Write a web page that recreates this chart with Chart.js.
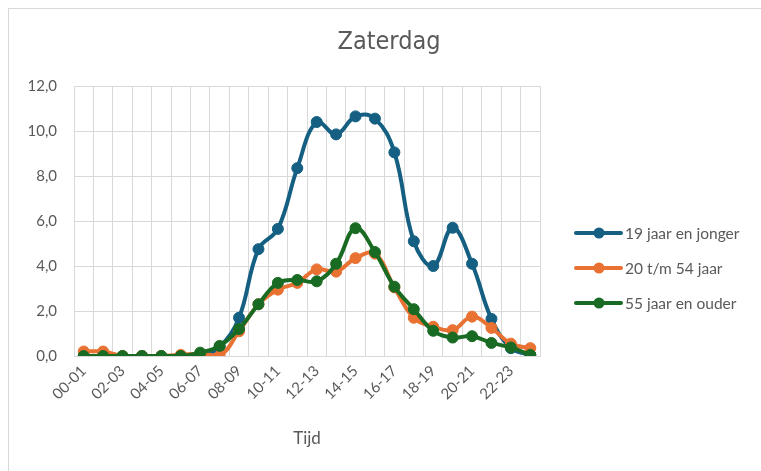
<!DOCTYPE html>
<html>
<head>
<meta charset="utf-8">
<script src="https://cdn.jsdelivr.net/npm/chart.js@4.4.1/dist/chart.umd.min.js"></script>
<style>
  html, body { margin: 0; padding: 0; background: #ffffff; }
  canvas { display: block; }
</style>
</head>
<body>
<canvas id="c" width="761" height="471"></canvas>
<script>
const chartTitle = 'Zaterdag';
const axisTitle = 'Tijd';
const categories = ['00-01','01-02','02-03','03-04','04-05','05-06','06-07','07-08','08-09','09-10','10-11','11-12',
                    '12-13','13-14','14-15','15-16','16-17','17-18','18-19','19-20','20-21','21-22','22-23','23-24'];
const seriesNames = ['19 jaar en jonger', '20 t/m 54 jaar', '55 jaar en ouder'];
const young  = [0, 0, 0, 0, 0, 0, 0, 0.4, 1.7, 4.75, 5.65, 8.35, 10.4, 9.85, 10.65, 10.55, 9.05, 5.1, 4.0, 5.7, 4.1, 1.65, 0.35, 0.05];
const middle = [0.2, 0.2, 0, 0, 0, 0.05, 0.1, 0, 1.1, 2.3, 2.95, 3.25, 3.85, 3.75, 4.35, 4.55, 3.05, 1.7, 1.3, 1.15, 1.75, 1.25, 0.55, 0.35];
const old    = [0, 0, 0, 0, 0, 0, 0.15, 0.45, 1.2, 2.3, 3.25, 3.38, 3.32, 4.1, 5.68, 4.62, 3.08, 2.08, 1.12, 0.82, 0.88, 0.58, 0.38, 0.05];
const yTicks = [0, 2, 4, 6, 8, 10, 12];

const colors = ['#156082', '#E97132', '#196B24'];
const textColor = '#595959';
const gridColor = '#d9d9d9';
const baseFont = 'Lato, "Noto Sans", sans-serif';
const titleFont = '"Liberation Sans Narrow", "DejaVu Sans Condensed", sans-serif';

const decor = {
  id: 'decor',
  beforeDraw(chart) {
    const ctx = chart.ctx;
    ctx.save();
    ctx.fillStyle = '#ffffff';
    ctx.fillRect(0, 0, chart.width, chart.height);
    ctx.strokeStyle = gridColor;
    ctx.lineWidth = 1;
    ctx.strokeRect(8.5, 8.5, 820, 520);
    ctx.restore();
  },
  afterDraw(chart) {
    const ctx = chart.ctx;
    ctx.save();
    ctx.fillStyle = textColor;
    ctx.font = '25px ' + titleFont;
    ctx.textAlign = 'center';
    ctx.textBaseline = 'middle';
    ctx.fillText(chartTitle, 389, 42);
    // legend
    const ys = [233, 268, 303];
    ctx.font = '15.5px ' + baseFont;
    ctx.textAlign = 'left';
    seriesNames.forEach((name, i) => {
      const y = ys[i];
      ctx.strokeStyle = colors[i];
      ctx.lineWidth = 4;
      ctx.lineCap = 'round';
      ctx.beginPath();
      ctx.moveTo(576, y);
      ctx.lineTo(621, y);
      ctx.stroke();
      ctx.fillStyle = colors[i];
      ctx.beginPath();
      ctx.arc(599, y, 5.5, 0, Math.PI * 2);
      ctx.fill();
      ctx.fillStyle = textColor;
      ctx.fillText(name, 625, y + 1);
    });
    ctx.restore();
  }
};

const seriesData = [young, middle, old];
const datasets = seriesData.map((d, i) => ({
  label: seriesNames[i],
  data: d,
  borderColor: colors[i],
  backgroundColor: colors[i],
  pointBackgroundColor: colors[i],
  pointBorderColor: colors[i],
  borderWidth: 4,
  pointRadius: 5.5,
  pointBorderWidth: 1,
  tension: 0.4,
  fill: false,
  order: 2 - i
}));

new Chart(document.getElementById('c'), {
  type: 'line',
  data: { labels: categories, datasets },
  plugins: [decor],
  options: {
    responsive: false,
    animation: false,
    layout: { padding: { left: 0, right: 221, top: 86, bottom: 0 } },
    plugins: {
      legend: { display: false },
      title: { display: false },
      tooltip: { enabled: false }
    },
    scales: {
      x: {
        type: 'category',
        offset: true,
        grid: { offset: true, color: gridColor, lineWidth: 1, drawTicks: false },
        border: { color: gridColor },
        ticks: {
          autoSkip: false,
          maxRotation: 45,
          minRotation: 45,
          padding: 6,
          color: textColor,
          font: { family: baseFont, size: 15 },
          callback: (v, i) => (i % 2 === 0 ? categories[i] : '')
        },
        title: {
          display: true,
          text: axisTitle,
          color: textColor,
          font: { family: baseFont, size: 17 },
          padding: { top: 0, bottom: 22 }
        },
        afterFit: s => { s.height = 115; }
      },
      y: {
        min: 0,
        max: 12,
        afterBuildTicks: s => { s.ticks = yTicks.map(v => ({ value: v })); },
        grid: { color: gridColor, lineWidth: 1, drawTicks: false },
        border: { color: gridColor },
        ticks: {
          padding: 17,
          color: textColor,
          font: { family: baseFont, size: 15 },
          callback: v => Number(v).toFixed(1).replace('.', ',')
        },
        afterFit: s => { s.width = 74; }
      }
    }
  }
});
</script>
</body>
</html>
